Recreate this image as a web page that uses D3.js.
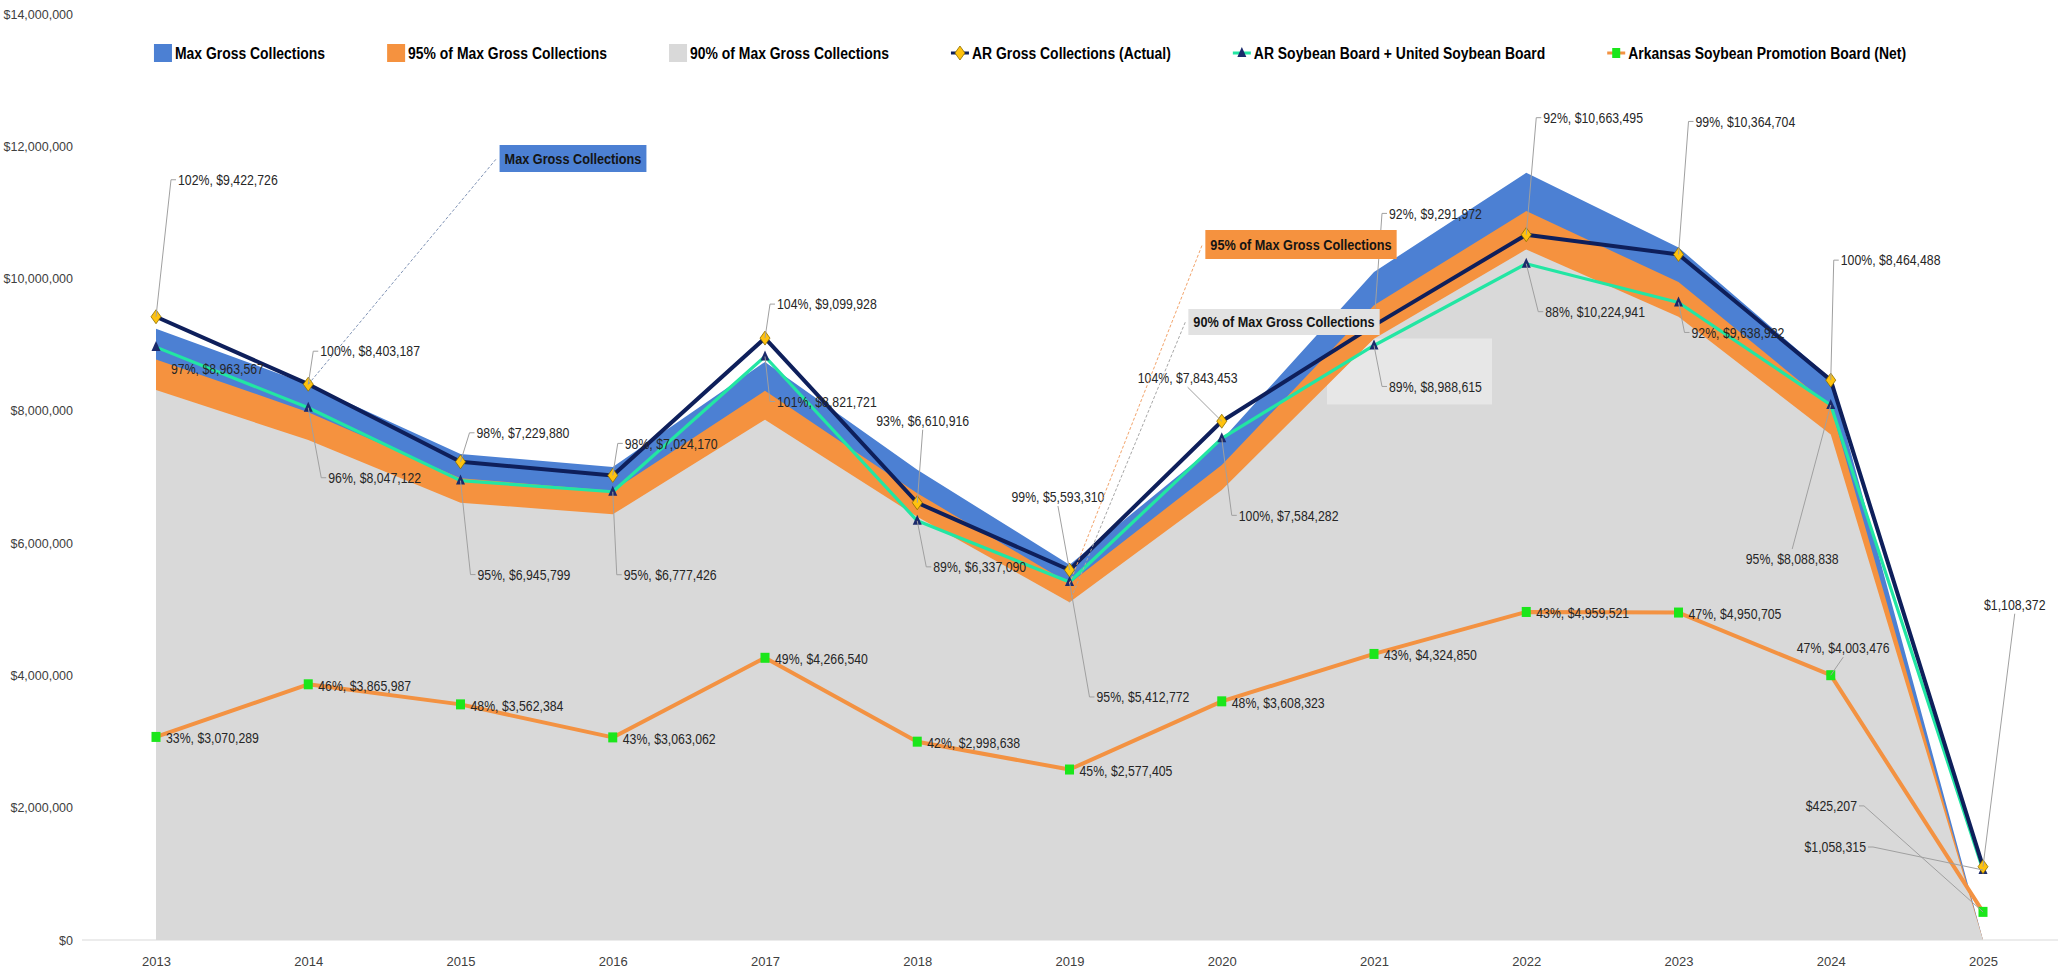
<!DOCTYPE html>
<html>
<head>
<meta charset="utf-8">
<script src="https://cdn.jsdelivr.net/npm/d3@7"></script>
<style>
  html, body { margin: 0; padding: 0; background: #ffffff; }
  svg { display: block; }
</style>
</head>
<body>
<svg id="chart" width="2058" height="974"></svg>
<script>
// ---------------- data ----------------
const years = ["2013","2014","2015","2016","2017","2018","2019","2020","2021","2022","2023","2024","2025"];

// Assessment ceilings
const maxGross = [9240000, 8400000, 7347000, 7150000, 8740000, 7110000, 5673000, 7560000, 10100000, 11600000, 10470000, 8490000, 0];
const gross95  = [8778000, 7980000, 6980000, 6793000, 8303000, 6755000, 5389000, 7182000, 9595000, 11020000, 9947000, 8066000, 0];
const gross90  = [8316000, 7560000, 6612000, 6435000, 7866000, 6399000, 5106000, 6804000, 9090000, 10440000, 9423000, 7641000, 0];

// AR Gross Collections (Actual)
const arGross    = [9422726, 8403187, 7229880, 7024170, 9099928, 6610916, 5593310, 7843453, 9291972, 10663495, 10364704, 8464488, 1108372];
const arGrossPct = [102, 100, 98, 98, 104, 93, 99, 104, 92, 92, 99, 100, null];

// AR Soybean Board + United Soybean Board
const boardTotal    = [8963567, 8047122, 6945799, 6777426, 8821721, 6337090, 5412772, 7584282, 8988615, 10224941, 9638922, 8088838, 1058315];
const boardTotalPct = [97, 96, 95, 95, 101, 89, 95, 100, 89, 88, 92, 95, null];

// Arkansas Soybean Promotion Board (Net)
const aspbNet    = [3070289, 3865987, 3562384, 3063062, 4266540, 2998638, 2577405, 3608323, 4324850, 4959521, 4950705, 4003476, 425207];
const aspbNetPct = [33, 46, 48, 43, 49, 42, 45, 48, 43, 43, 47, 47, null];

const yTicks = [0, 2000000, 4000000, 6000000, 8000000, 10000000, 12000000, 14000000];

const legendNames = [
  "Max Gross Collections",
  "95% of Max Gross Collections",
  "90% of Max Gross Collections",
  "AR Gross Collections (Actual)",
  "AR Soybean Board + United Soybean Board",
  "Arkansas Soybean Promotion Board (Net)"
];

// ---------------- layout ----------------
const W = 2058, H = 974;
const plot = { left: 156, right: 1983, top: 14, bottom: 940 };

const colors = {
  blueArea: "#4C80D3",
  orangeArea: "#F5923F",
  grayArea: "#D9D9D9",
  navy: "#0E1F5B",
  aqua: "#22E6A3",
  orangeLine: "#F39242",
  gold: "#FFC20E",
  goldEdge: "#8A6D00",
  tri: "#1B2A6B",
  green: "#1BE61B",
  leader: "#A0A0A0",
  text: "#262626",
  axisText: "#404040"
};

// label offsets from their point: [dx, dy, leader mode]
const grossLabelPos = [
  [22,-137,"left"],[12,-33,"left"],[16,-29,"left"],[12,-32,"left"],[12,-34,"left"],
  [-41,-82,"bottom"],[-58,-73,"bottom"],[-84,-43,"bottom"],[15,-112,"left"],[17,-117,"left"],
  [17,-133,"left"],[10,-120,"left"],[1,-262,"bottom"]
];
const boardLabelPos = [
  [15,22,"none"],[20,70,"left"],[17,94,"left"],[11,83,"left"],[12,45,"left"],
  [16,46,"left"],[27,115,"left"],[17,77,"left"],[15,41,"left"],[19,48,"left"],
  [13,30,"left"],[-85,154,"top"],[-117,-23,"right"]
];
const netLabelPos = [
  [10,1,"none"],[10,1,"none"],[10,1,"none"],[10,1,"none"],[10,1,"none"],
  [10,1,"none"],[10,1,"none"],[10,1,"none"],[10,1,"none"],[10,1,"none"],
  [10,1,"none"],[-34,-27,"bottom"],[-126,-106,"right"]
];

// pick a condensed face when one is installed
function hasFont(name) {
  const ctx = document.createElement("canvas").getContext("2d");
  const s = "mmmmmmmmmmlli1234567890$,%WwQq";
  ctx.font = "40px monospace";
  const a = ctx.measureText(s).width;
  ctx.font = `40px "${name}", monospace`;
  const b = ctx.measureText(s).width;
  return Math.abs(a - b) > 0.5;
}
const narrowFamily = hasFont("Liberation Sans Narrow") ? "'Liberation Sans Narrow'" :
                     (hasFont("Arial Narrow") ? "'Arial Narrow'" : "'Liberation Sans'");
const narrowAvailable = narrowFamily !== "'Liberation Sans'";
const squeeze = narrowAvailable ? 1 : 0.82;

const svg = d3.select("#chart");

const x = d3.scalePoint().domain(years).range([plot.left, plot.right]);
const y = d3.scaleLinear().domain([0, 14000000]).range([plot.bottom, plot.top]);

const money = d3.format("$,.0f");

// ---------------- areas ----------------
const area = d3.area()
  .x((d, i) => x(years[i]))
  .y0(y(0))
  .y1(d => y(d));

svg.append("path").datum(maxGross).attr("d", area).attr("fill", colors.blueArea);
svg.append("path").datum(gross95).attr("d", area).attr("fill", colors.orangeArea);
svg.append("path").datum(gross90).attr("d", area).attr("fill", colors.grayArea);

// pale label panel behind the 2021 board figure, kept inside the grey band
svg.append("clipPath").attr("id", "grayClip")
  .append("path").datum(gross90).attr("d", area);
{
  const px = x(years[8]), py = y(boardTotal[8]);
  svg.append("rect")
    .attr("clip-path", "url(#grayClip)")
    .attr("x", px - 47).attr("y", py - 7)
    .attr("width", 165).attr("height", 66)
    .attr("fill", "#ffffff").attr("opacity", 0.38);
}

// ---------------- axes ----------------
svg.append("line")
  .attr("x1", 82).attr("x2", W)
  .attr("y1", y(0)).attr("y2", y(0))
  .attr("stroke", "#D9D9D9").attr("stroke-width", 1.2);

const yAxis = svg.append("g")
  .attr("transform", `translate(75,0)`)
  .call(d3.axisLeft(y).tickValues(yTicks).tickFormat(money).tickSize(0).tickPadding(2));
yAxis.select(".domain").remove();
yAxis.selectAll("text")
  .attr("font-family", narrowFamily)
  .attr("font-size", 12.5)
  .attr("fill", colors.axisText);

const xAxis = svg.append("g")
  .attr("transform", `translate(0,${y(0)})`)
  .call(d3.axisBottom(x).tickSize(0).tickPadding(17));
xAxis.select(".domain").remove();
xAxis.selectAll("text")
  .attr("font-family", narrowFamily)
  .attr("font-size", 13)
  .attr("fill", colors.axisText);

// ---------------- lines & markers ----------------
const line = d3.line().x((d, i) => x(years[i])).y(d => y(d));

const diamond = "M0,-7L5,0L0,7L-5,0Z";
const triangle = "M0,-6L4.5,4L-4.5,4Z";

// ASPB net
svg.append("path").datum(aspbNet).attr("d", line)
  .attr("fill", "none").attr("stroke", colors.orangeLine).attr("stroke-width", 4)
  .attr("stroke-linejoin", "round");
svg.append("g").selectAll("rect").data(aspbNet).join("rect")
  .attr("x", (d, i) => x(years[i]) - 4.5).attr("y", d => y(d) - 5)
  .attr("width", 9).attr("height", 10)
  .attr("fill", colors.green);

// Board total
svg.append("path").datum(boardTotal).attr("d", line)
  .attr("fill", "none").attr("stroke", colors.aqua).attr("stroke-width", 3.2)
  .attr("stroke-linejoin", "round");

// AR gross
svg.append("path").datum(arGross).attr("d", line)
  .attr("fill", "none").attr("stroke", colors.navy).attr("stroke-width", 4)
  .attr("stroke-linejoin", "round");

svg.append("g").selectAll("path").data(boardTotal).join("path")
  .attr("d", triangle)
  .attr("transform", (d, i) => `translate(${x(years[i])},${y(d)})`)
  .attr("fill", colors.tri);

svg.append("g").selectAll("path").data(arGross).join("path")
  .attr("d", diamond)
  .attr("transform", (d, i) => `translate(${x(years[i])},${y(d)})`)
  .attr("fill", colors.gold).attr("stroke", colors.goldEdge).attr("stroke-width", 0.8);

// ---------------- data labels ----------------
const labelLayer = svg.append("g");
const leaderLayer = labelLayer.append("g");
const textLayer = labelLayer.append("g");

function drawLabels(values, pcts, pos) {
  values.forEach((v, i) => {
    const px = x(years[i]), py = y(v);
    const [dx, dy, mode] = pos[i];
    const lx = px + dx, ly = py + dy;
    const txt = pcts[i] == null ? money(v) : `${pcts[i]}%, ${money(v)}`;
    const t = textLayer.append("text")
      .attr("x", 0).attr("y", 0)
      .attr("dy", "0.35em")
      .attr("font-family", narrowFamily)
      .attr("font-size", 15)
      .attr("fill", colors.text)
      .attr("text-anchor", mode === "right" ? "end" : "start")
      .attr("transform", `translate(${lx},${ly}) scale(${squeeze},1)`)
      .text(txt);
    const w = t.node().getComputedTextLength() * squeeze;
    let d = null;
    if (mode === "left") d = `M${px},${py}L${lx - 7},${ly}L${lx - 2},${ly}`;
    else if (mode === "right") d = `M${px},${py}L${lx + 7},${ly}L${lx + 2},${ly}`;
    else if (mode === "bottom") d = `M${px},${py}L${lx + w / 2},${ly + 9}`;
    else if (mode === "top") d = `M${px},${py}L${lx + w / 2},${ly - 10}`;
    if (d) leaderLayer.append("path").attr("d", d)
      .attr("fill", "none").attr("stroke", colors.leader).attr("stroke-width", 1);
  });
}
drawLabels(arGross, arGrossPct, grossLabelPos);
drawLabels(boardTotal, boardTotalPct, boardLabelPos);
drawLabels(aspbNet, aspbNetPct, netLabelPos);

// ---------------- series call-outs ----------------
const callouts = [
  { text: legendNames[0], fill: colors.blueArea, cx: 573, cy: 158.5, h: 27, values: maxGross, idx: 1, stroke: "#7F93B5" },
  { text: legendNames[1], fill: colors.orangeArea, cx: 1301, cy: 244.5, h: 29, values: gross95, idx: 6, stroke: "#F2A36A" },
  { text: legendNames[2], fill: "#E2E2E2", cx: 1284, cy: 322, h: 26, values: gross90, idx: 6, stroke: "#A6A6A6" }
];
const calloutLayer = svg.append("g");
callouts.forEach(c => {
  const g = calloutLayer.append("g");
  const rect = g.append("rect");
  const t = g.append("text")
    .attr("dy", "0.35em")
    .attr("text-anchor", "middle")
    .attr("font-family", narrowFamily)
    .attr("font-weight", "bold")
    .attr("font-size", 15.5)
    .attr("fill", "#141414")
    .attr("transform", `translate(${c.cx},${c.cy}) scale(${squeeze},1)`)
    .text(c.text);
  const w = t.node().getComputedTextLength() * squeeze + 10;
  rect.attr("x", c.cx - w / 2).attr("y", c.cy - c.h / 2)
    .attr("width", w).attr("height", c.h).attr("fill", c.fill);
  const px = x(years[c.idx]), py = y(c.values[c.idx]);
  calloutLayer.insert("path", ":first-child")
    .attr("d", `M${px},${py}L${c.cx - w / 2 - 3},${c.cy}`)
    .attr("fill", "none").attr("stroke", c.stroke)
    .attr("stroke-width", 1).attr("stroke-dasharray", "3,2");
});

// ---------------- legend ----------------
const legendItems = [
  { name: legendNames[0], kind: "swatch", fill: colors.blueArea },
  { name: legendNames[1], kind: "swatch", fill: colors.orangeArea },
  { name: legendNames[2], kind: "swatch", fill: colors.grayArea },
  { name: legendNames[3], kind: "line", stroke: colors.navy, marker: "diamond" },
  { name: legendNames[4], kind: "line", stroke: colors.aqua, marker: "triangle" },
  { name: legendNames[5], kind: "line", stroke: colors.orangeLine, marker: "square" }
];
const legend = svg.append("g");
const legendY = 53;
let cursor = 0;
const legendGap = 62;
legendItems.forEach(it => {
  const g = legend.append("g").attr("transform", `translate(${cursor},0)`);
  if (it.kind === "swatch") {
    g.append("rect").attr("x", 0).attr("y", legendY - 9).attr("width", 18).attr("height", 18).attr("fill", it.fill);
  } else {
    g.append("line").attr("x1", 0).attr("x2", 18).attr("y1", legendY).attr("y2", legendY)
      .attr("stroke", it.stroke).attr("stroke-width", 3);
    if (it.marker === "diamond") {
      g.append("path").attr("d", diamond).attr("transform", `translate(9,${legendY})`)
        .attr("fill", colors.gold).attr("stroke", colors.goldEdge).attr("stroke-width", 0.8);
    } else if (it.marker === "triangle") {
      g.append("path").attr("d", triangle).attr("transform", `translate(9,${legendY})`).attr("fill", colors.tri);
    } else {
      g.append("rect").attr("x", 5).attr("y", legendY - 5).attr("width", 8).attr("height", 10).attr("fill", colors.green);
    }
  }
  const t = g.append("text")
    .attr("dy", "0.35em")
    .attr("font-family", narrowFamily)
    .attr("font-weight", "bold")
    .attr("font-size", 17)
    .attr("fill", "#000")
    .attr("transform", `translate(21,${legendY}) scale(${squeeze},1)`)
    .text(it.name);
  const w = t.node().getComputedTextLength() * squeeze;
  cursor += 21 + w + legendGap;
});
const legendWidth = cursor - legendGap;
legend.attr("transform", `translate(${(W - legendWidth) / 2 + 1},0)`);
</script>
</body>
</html>
